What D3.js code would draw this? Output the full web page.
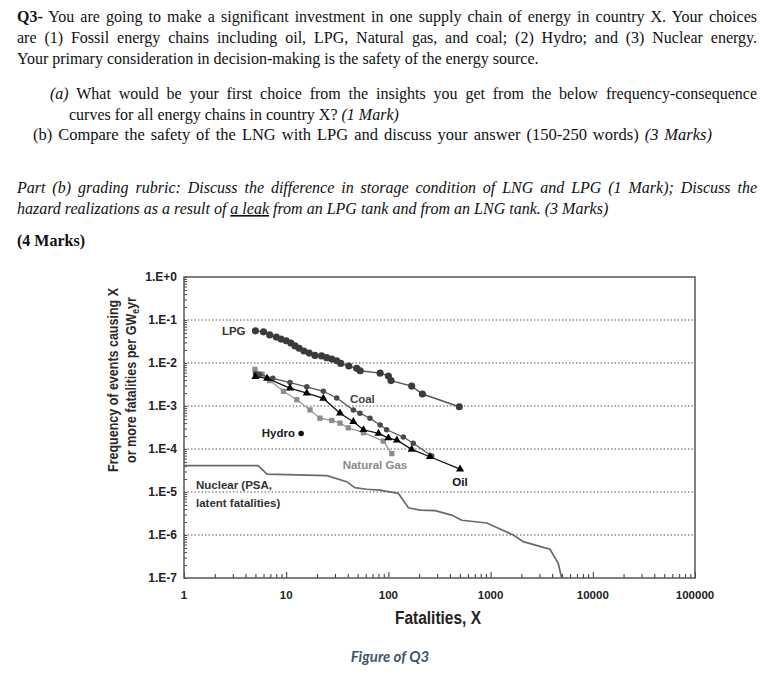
<!DOCTYPE html>
<html>
<head>
<meta charset="utf-8">
<script src="https://cdn.jsdelivr.net/npm/d3@7"></script>
<style>
  body { margin: 0; background: #fff; }
  svg { display: block; }
  .q { font-family: "Liberation Serif", "Times New Roman", serif; font-size: 16px; fill: #111; }
  .ax { font-family: "Liberation Sans", Arial, sans-serif; font-weight: bold; }
</style>
</head>
<body>
<svg width="770" height="688"></svg>
<script>
// Data
const lpgX = [5.0, 6.0, 6.9, 8.0, 8.9, 10, 11.1, 12.2, 13.4, 14.9, 16.8, 19.1, 22.2, 24.9, 27.9, 31.2, 34.2, 41, 49, 53, 83, 100, 106, 169, 215, 494]
const lpgF = [0.056, 0.053, 0.045, 0.040, 0.036, 0.033, 0.029, 0.025, 0.022, 0.019, 0.017, 0.015, 0.0146, 0.0133, 0.0124, 0.0113, 0.0098, 0.0085, 0.0075, 0.0066, 0.0058, 0.0050, 0.0039, 0.0029, 0.0019, 0.00096]

const coalX = [5.0, 5.5, 7.4, 10.9, 15.9, 23.1, 31.2, 45.4, 52.7, 66, 83, 96, 140, 175, 265]
const coalF = [0.0056, 0.0055, 0.0044, 0.0035, 0.0028, 0.0022, 0.00154, 0.00081, 0.00068, 0.00052, 0.00036, 0.00028, 0.00019, 0.000136, 0.000069]

const oilX = [5.0, 6.5, 10.9, 15.9, 23.1, 33.6, 45.4, 57, 80, 100, 121, 169, 255, 502]
const oilF = [0.0048, 0.0044, 0.0026, 0.0020, 0.0015, 0.00068, 0.00043, 0.00028, 0.00023, 0.00018, 0.00016, 0.000098, 0.000066, 0.000034]

const gasX = [4.95, 5.8, 6.9, 9.4, 12.7, 17.1, 21.4, 27.9, 33.6, 40.5, 57, 89, 108]
const gasF = [0.0071, 0.0055, 0.0039, 0.0022, 0.0014, 0.00081, 0.00052, 0.00046, 0.0004, 0.00031, 0.00024, 0.000153, 0.000078]

const nuclearX = [1, 5.3, 6.5, 25, 39, 47, 61, 83, 100, 125, 157, 204, 286, 416, 521, 916, 1148, 1667, 2089, 3540, 3810, 4590, 4960]
const nuclearF = [4.1e-5, 4.1e-5, 2.6e-5, 2.4e-5, 1.74e-5, 1.26e-5, 1.16e-5, 1.11e-5, 1.02e-5, 9.3e-6, 4.3e-6, 3.8e-6, 3.7e-6, 2.9e-6, 2.2e-6, 1.9e-6, 1.5e-6, 1.0e-6, 7.0e-7, 4.9e-7, 4.65e-7, 2.2e-7, 1.0e-7]

const hydroX = [14]
const hydroF = [2.3e-4]

const yTicks = [1, 1e-1, 1e-2, 1e-3, 1e-4, 1e-5, 1e-6, 1e-7]
const yTickLabels = ['1.E+0', '1.E-1', '1.E-2', '1.E-3', '1.E-4', '1.E-5', '1.E-6', '1.E-7']
const xTicks = [1, 10, 100, 1000, 10000, 100000]
const xTickLabels = ['1', '10', '100', '1000', '10000', '100000']

// Set up
const svg = d3.select('svg')

// question text, justified lines get word-spacing stretched to fit
function line (x0, y, parts, x1, size) {
    const t = svg.append('text').attr('class', 'q').attr('x', x0).attr('y', y)
    if (size) t.style('font-size', size + 'px')
    parts.forEach(p => {
        const s = t.append('tspan').text(p[0])
        if (p[1] && p[1].includes('i')) s.style('font-style', 'italic')
        if (p[1] && p[1].includes('b')) s.style('font-weight', 'bold')
        if (p[1] && p[1].includes('u')) s.style('text-decoration', 'underline')
    })
    if (x1) {
        const w = t.node().getComputedTextLength()
        const n = parts.map(p => p[0]).join('').split(' ').length - 1
        t.style('word-spacing', ((x1 - x0 - w) / n) + 'px')
    }
}

line(17, 22, [['Q3-', 'b'], [' You are going to make a significant investment in one supply chain of energy in country X. Your choices']], 757)
line(17, 43, [['are (1) Fossil energy chains including oil, LPG, Natural gas, and coal; (2) Hydro; and (3) Nuclear energy.']], 757)
line(17, 64, [['Your primary consideration in decision-making is the safety of the energy source.']])
line(50, 99, [['(a)', 'i'], [' What would be your first choice from the insights you get from the below frequency-consequence']], 757)
line(69, 120, [['curves for all energy chains in country X? '], ['(1 Mark)', 'i']])
line(33, 140, [['(b) Compare the safety of the LNG with LPG and discuss your answer (150-250 words) '], ['(3 Marks)', 'i']], 712, 16.5)
line(17, 193, [['Part (b) grading rubric: Discuss the difference in storage condition of LNG and LPG (1 Mark); Discuss the', 'i']], 757)
line(17, 214, [['hazard realizations as a result of ', 'i'], ['a leak', 'iu'], [' from an LPG tank and from an LNG tank. (3 Marks)', 'i']])
line(17, 246, [['(4 Marks)', 'b']])

// scales
const x = d3.scaleLog().domain([1, 1e5]).range([184, 695])
const y = d3.scaleLog().domain([1e-7, 1]).range([578, 277])

// grid
svg.append('g')
    .selectAll('line')
    .data(yTicks.slice(1, -1))
    .join('line')
    .attr('x1', x(1)).attr('x2', x(1e5))
    .attr('y1', d => y(d)).attr('y2', d => y(d))
    .attr('stroke', '#8e8e8e')
    .attr('stroke-width', 1.3)
    .attr('stroke-dasharray', '1.5,2')

// axes, ticks inside the frame
const yAxis = d3.axisRight(y).tickValues(d3.range(-7, 0).flatMap(e => d3.range(1, 10).map(m => m * Math.pow(10, e))).concat([1]))
    .tickSize(3).tickFormat('')
svg.append('g').attr('transform', `translate(${x(1)},0)`).call(yAxis)
    .call(g => g.select('.domain').remove())
    .call(g => g.selectAll('.tick line').attr('stroke', '#444'))

const xAxis = d3.axisTop(x).tickValues(d3.range(0, 5).flatMap(e => d3.range(1, 10).map(m => m * Math.pow(10, e))).concat([1e5]))
    .tickSize(4).tickFormat('')
svg.append('g').attr('transform', `translate(0,${y(1e-7)})`).call(xAxis)
    .call(g => g.select('.domain').remove())
    .call(g => g.selectAll('.tick line')
        .attr('stroke', '#333')
        .attr('y2', d => Math.abs(Math.log10(d) % 1) < 1e-9 ? -6 : -4))

svg.append('rect')
    .attr('x', x(1)).attr('y', y(1))
    .attr('width', x(1e5) - x(1)).attr('height', y(1e-7) - y(1))
    .attr('fill', 'none').attr('stroke', '#555').attr('stroke-width', 1.5)

svg.append('g').attr('class', 'ax')
    .selectAll('text')
    .data(yTicks)
    .join('text')
    .attr('x', x(1) - 7)
    .attr('y', d => y(d) + 4)
    .attr('text-anchor', 'end')
    .attr('font-size', 12)
    .attr('fill', '#222')
    .text((d, i) => yTickLabels[i])

svg.append('g').attr('class', 'ax')
    .selectAll('text')
    .data(xTicks)
    .join('text')
    .attr('x', d => x(d))
    .attr('y', y(1e-7) + 21)
    .attr('text-anchor', 'middle')
    .attr('font-size', 11.5)
    .attr('fill', '#222')
    .text((d, i) => xTickLabels[i])

// axis titles are a little condensed in the figure
svg.append('text').attr('class', 'ax')
    .attr('x', 438).attr('y', 624)
    .attr('text-anchor', 'middle').attr('font-size', 17.5).attr('fill', '#222')
    .attr('textLength', 86).attr('lengthAdjust', 'spacingAndGlyphs')
    .text('Fatalities, X')

const yt = svg.append('g').attr('class', 'ax')
    .attr('transform', 'translate(0,380) rotate(-90)')
    .attr('font-size', 14.5).attr('fill', '#2a2a2a')
yt.append('text').attr('x', -92).attr('y', 118)
    .attr('textLength', 184).attr('lengthAdjust', 'spacingAndGlyphs')
    .text('Frequency of events causing X')
const yt2 = yt.append('text').attr('x', -83).attr('y', 136)
    .attr('textLength', 166).attr('lengthAdjust', 'spacingAndGlyphs')
yt2.append('tspan').text('or more fatalities per GW')
yt2.append('tspan').attr('font-size', 10).attr('dy', 3).text('e')
yt2.append('tspan').attr('dy', -3).text('yr')

// series
const series = [
    {name: 'Nuclear', xs: nuclearX, fs: nuclearF, line: '#6a6a6a', lw: 1.7, marker: null},
    {name: 'Natural Gas', xs: gasX, fs: gasF, line: '#9a9a9a', lw: 1.3, marker: 'square', fill: '#8c8c8c', size: 28},
    {name: 'Coal', xs: coalX, fs: coalF, line: '#555', lw: 1.3, marker: 'circle', fill: '#4a4a4a', size: 24},
    {name: 'Oil', xs: oilX, fs: oilF, line: '#111', lw: 1.3, marker: 'triangle', fill: '#000', size: 28},
    {name: 'LPG', xs: lpgX, fs: lpgF, line: '#555', lw: 1.4, marker: 'circle', fill: '#3a3a3a', size: 40},
    {name: 'Hydro', xs: hydroX, fs: hydroF, line: 'none', lw: 0, marker: 'circle', fill: '#111', size: 24}
]
const symbols = {circle: d3.symbolCircle, square: d3.symbolSquare, triangle: d3.symbolTriangle}

const lineGen = d3.line().x(d => x(d[0])).y(d => y(d[1]))

series.forEach(s => {
    const pts = s.xs.map((v, i) => [v, s.fs[i]])
    svg.append('path')
        .datum(pts)
        .attr('d', lineGen)
        .attr('fill', 'none')
        .attr('stroke', s.line)
        .attr('stroke-width', s.lw)
    if (s.marker) {
        svg.append('g')
            .selectAll('path')
            .data(pts)
            .join('path')
            .attr('transform', d => `translate(${x(d[0])},${y(d[1])})`)
            .attr('d', d3.symbol(symbols[s.marker], s.size))
            .attr('fill', s.fill)
    }
})

// curve labels
const labels = [
    {t: 'LPG', x: 4.0, f: 0.0555, a: 'end', c: '#333'},
    {t: 'Coal', x: 42, f: 0.00146, a: 'start', c: '#444'},
    {t: 'Hydro', x: 12.2, f: 2.3e-4, a: 'end', c: '#222'},
    {t: 'Natural Gas', x: 35.7, f: 4.2e-5, a: 'start', c: '#8a8a8a'},
    {t: 'Oil', x: 502, f: 1.74e-5, a: 'middle', c: '#111'},
    {t: 'Nuclear (PSA,', x: 1.31, f: 1.46e-5, a: 'start', c: '#333'},
    {t: 'latent fatalities)', x: 1.31, f: 5.6e-6, a: 'start', c: '#333'}
]
svg.append('g').attr('class', 'ax')
    .selectAll('text')
    .data(labels)
    .join('text')
    .attr('x', d => x(d.x))
    .attr('y', d => y(d.f) + 4)
    .attr('text-anchor', d => d.a)
    .attr('font-size', 11.5)
    .attr('fill', d => d.c)
    .text(d => d.t)

svg.append('text')
    .attr('x', 390).attr('y', 662)
    .attr('text-anchor', 'middle')
    .style('font-family', 'Lato, "Open Sans", sans-serif')
    .style('font-weight', 'bold').style('font-style', 'italic')
    .attr('font-size', 15).attr('fill', '#44546a')
    .text('Figure of Q3')
</script>
</body>
</html>
